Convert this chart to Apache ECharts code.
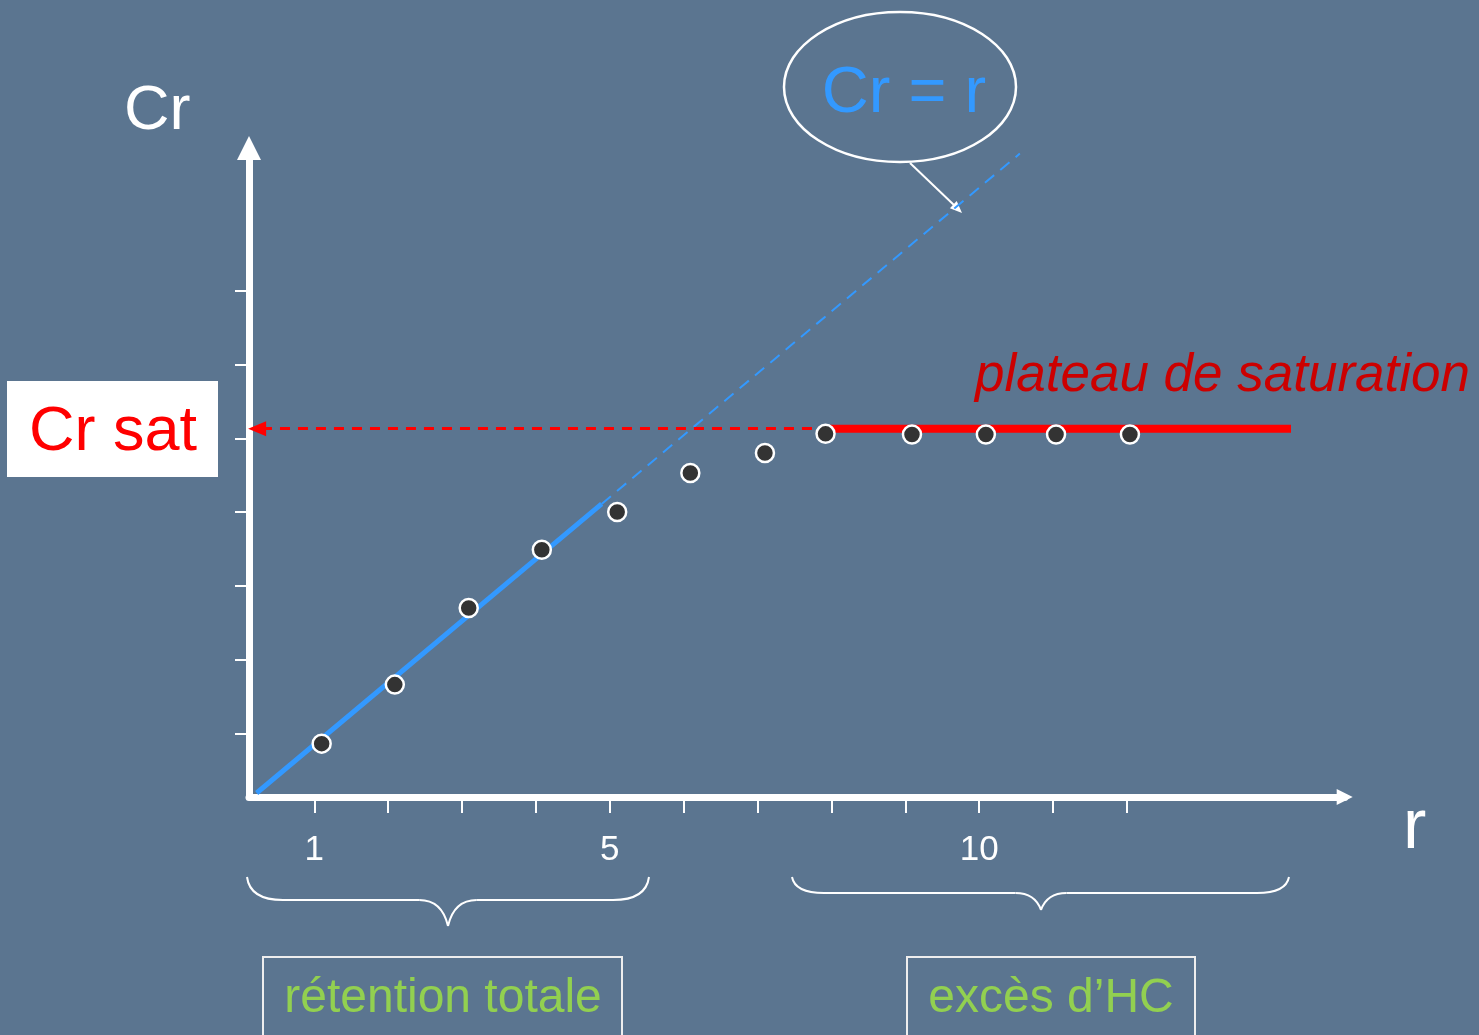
<!DOCTYPE html>
<html>
<head>
<meta charset="utf-8">
<script src="https://cdn.jsdelivr.net/npm/echarts@6/dist/echarts.min.js"></script>
<style>
html,body{margin:0;padding:0;background:#5b7590;}
#c{width:1479px;height:1035px;}
</style>
</head>
<body>
<div id="c"></div>
<script>
// ---- data ----
const rTicks = [1, 2, 3, 4, 5, 6, 7, 8, 9, 10, 11, 12];
const rLabels = [1, 5, 10];
const crTicks = [1, 2, 3, 4, 5, 6, 7];
const pointsR  = [1.10, 2.09, 3.09, 4.08, 5.10, 6.09, 7.10, 7.92, 9.09, 10.09, 11.04, 12.04];
const pointsCr = [0.86, 1.66, 2.70, 3.49, 4.00, 4.53, 4.80, 5.06, 5.05, 5.05, 5.05, 5.05];
const crSat = 5.13;
const lineSolid = [[0.22, 0.19], [4.89, 4.11]];
const lineDashed = [[4.89, 4.11], [10.55, 8.86]];
const plateauR = [7.98, 14.22];
const rRange = [0.1164, 14.947];
const crRange = [0.1363, 8.936];

const FONT = 'Liberation Sans, Arial, sans-serif';
const chart = echarts.init(document.getElementById('c'));

const braceStyle = { fill: 'none', stroke: '#ffffff', lineWidth: 2 };
function brace(x1, x2, yTop, yFlat, yTip, xTip, curve) {
  const q = (ax, ay, cx, cy, bx, by) => ({ type: 'bezierCurve', shape: { x1: ax, y1: ay, cpx1: cx, cpy1: cy, x2: bx, y2: by }, style: braceStyle });
  const l = (ax, ay, bx, by) => ({ type: 'line', shape: { x1: ax, y1: ay, x2: bx, y2: by }, style: braceStyle });
  const c2 = curve * 0.8;
  return [
    q(x1, yTop, x1 + 3, yFlat, x1 + curve, yFlat),
    l(x1 + curve, yFlat, xTip - c2, yFlat),
    q(xTip - c2, yFlat, xTip - 6, yFlat, xTip, yTip),
    q(xTip, yTip, xTip + 6, yFlat, xTip + c2, yFlat),
    l(xTip + c2, yFlat, x2 - curve, yFlat),
    q(x2 - curve, yFlat, x2 - 3, yFlat, x2, yTop)
  ];
}

const option = {
  backgroundColor: '#5b7590',
  animation: false,
  grid: { left: 249, top: 148, right: 134.3, bottom: 238, containLabel: false },
  xAxis: {
    type: 'value', min: rRange[0], max: rRange[1],
    axisLine: { show: true, onZero: false, symbol: ['none', 'triangle'], symbolSize: [16, 16],
      lineStyle: { color: '#ffffff', width: 7 } },
    axisTick: { show: true, customValues: rTicks, length: 16, lineStyle: { color: '#ffffff', width: 2 } },
    axisLabel: { show: true, customValues: rLabels, color: '#ffffff', fontSize: 35, fontFamily: FONT, margin: 36 },
    splitLine: { show: false }
  },
  yAxis: {
    type: 'value', min: crRange[0], max: crRange[1],
    axisLine: { show: true, onZero: false, symbol: ['none', 'triangle'], symbolSize: [24, 24],
      lineStyle: { color: '#ffffff', width: 7 } },
    axisTick: { show: true, customValues: crTicks, length: 14, lineStyle: { color: '#ffffff', width: 2 } },
    axisLabel: { show: false },
    splitLine: { show: false }
  },
  series: [
    {
      type: 'line', data: lineDashed, symbol: 'none', z: 2,
      lineStyle: { color: '#3399ff', width: 2, type: [12, 8] }
    },
    {
      type: 'line', data: lineSolid, symbol: 'none', z: 3,
      lineStyle: { color: '#3399ff', width: 5 }
    },
    {
      type: 'line', data: [[plateauR[0], crSat], [plateauR[1], crSat]], symbol: 'none', z: 3,
      lineStyle: { color: '#ff0000', width: 8 },
      markLine: {
        silent: true, symbol: ['none', 'triangle'], symbolSize: [15, 18],
        label: { show: false },
        lineStyle: { color: '#ff0000', width: 3, type: [10, 8] },
        data: [[{ coord: [plateauR[0], crSat] }, { coord: [rRange[0] + 0.11, crSat] }]]
      }
    },
    {
      type: 'scatter', z: 5,
      data: pointsR.map((r, i) => [r, pointsCr[i]]),
      symbol: 'circle', symbolSize: 18,
      itemStyle: { color: '#333333', borderColor: '#ffffff', borderWidth: 2.5, opacity: 1 }
    }
  ],
  graphic: [
    { type: 'text', x: 124, y: 112, style: { text: 'Cr', fill: '#ffffff', font: '63px ' + FONT, verticalAlign: 'middle' } },
    { type: 'text', x: 1403, y: 829, style: { text: 'r', fill: '#ffffff', font: '70px ' + FONT, verticalAlign: 'middle' } },
    { type: 'ellipse', shape: { cx: 900, cy: 87, rx: 116, ry: 75 }, style: { fill: 'none', stroke: '#ffffff', lineWidth: 2.5 } },
    { type: 'text', x: 904, y: 94, style: { text: 'Cr = r', fill: '#3399ff', font: '65px ' + FONT, align: 'center', verticalAlign: 'middle' } },
    { type: 'line', shape: { x1: 910, y1: 163, x2: 955, y2: 206 }, style: { stroke: '#ffffff', lineWidth: 2 } },
    { type: 'polygon', shape: { points: [[962, 213], [949.9, 208.3], [956.7, 201.1]] }, style: { fill: '#ffffff' } },
    { type: 'rect', shape: { x: 7, y: 381, width: 211, height: 96 }, style: { fill: '#ffffff' } },
    { type: 'text', x: 113, y: 433, style: { text: 'Cr sat', fill: '#ff0000', font: '63px ' + FONT, align: 'center', verticalAlign: 'middle' } },
    { type: 'text', x: 975, y: 376, style: { text: 'plateau de saturation', fill: '#cc0000', font: 'italic 53px ' + FONT, verticalAlign: 'middle' } },
    { type: 'group', children: brace(247, 649, 877, 900, 926, 448, 36) },
    { type: 'group', children: brace(792, 1289, 877, 893, 910, 1041, 32) },
    { type: 'rect', shape: { x: 263, y: 957, width: 359, height: 100 }, style: { fill: 'none', stroke: '#eeeeee', lineWidth: 2 } },
    { type: 'text', x: 443, y: 999, style: { text: 'rétention totale', fill: '#92d050', font: '48px ' + FONT, align: 'center', verticalAlign: 'middle' } },
    { type: 'rect', shape: { x: 907, y: 957, width: 288, height: 100 }, style: { fill: 'none', stroke: '#eeeeee', lineWidth: 2 } },
    { type: 'text', x: 1051, y: 999, style: { text: 'excès d’HC', fill: '#92d050', font: '48px ' + FONT, align: 'center', verticalAlign: 'middle' } }
  ]
};
chart.setOption(option);
</script>
</body>
</html>
